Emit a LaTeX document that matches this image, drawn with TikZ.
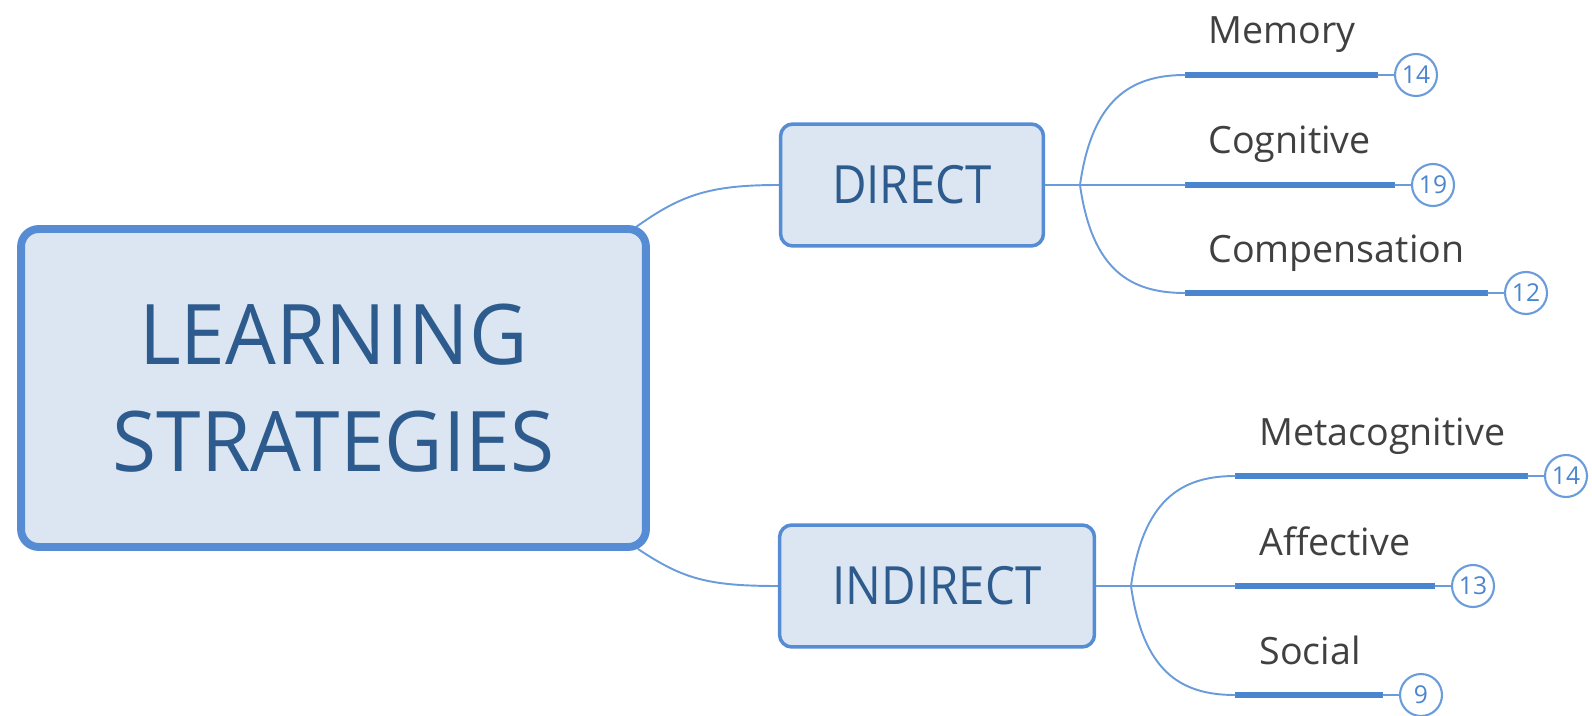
\documentclass[tikz,border=0pt]{standalone}
\usepackage{fontspec}
\setmainfont{Open Sans}
\newfontfamily\rootfont[FakeStretch=0.96]{Open Sans}
\newfontfamily\topicfont[FakeStretch=0.9]{Open Sans}
\usetikzlibrary{positioning,calc,backgrounds}

\definecolor{mapline}{HTML}{6A9CDC}
\definecolor{mapbar}{HTML}{4A85D0}
\definecolor{mapborder}{HTML}{558CD4}
\definecolor{mapfill}{HTML}{DCE6F2}
\definecolor{maptext}{HTML}{2E5B8D}
\definecolor{leaftext}{HTML}{404040}

\tikzset{
  topic/.style={draw=mapborder,fill=mapfill,text=maptext,align=center,inner sep=0pt},
  root/.style={topic,line width=4.5pt,rounded corners=10pt,
    minimum width=12.5cm,minimum height=6.36cm,
    font=\rootfont\fontsize{47.6}{60.7}\selectfont},
  branch/.style={topic,line width=2pt,rounded corners=7pt,
    minimum height=2.44cm,font=\topicfont\fontsize{30}{36}\selectfont},
  leaf/.style={text=leaftext,inner sep=0pt,anchor=base west,
    font=\fontsize{21.4}{25}\selectfont},
  count/.style={circle,draw=mapline,line width=1.2pt,fill=white,
    minimum size=0.84cm,inner sep=0pt,text=mapbar,
    font=\fontsize{14}{16}\selectfont},
  link/.style={draw=mapline,line width=1.1pt},
  bar/.style={draw=mapbar,line width=2.9pt,line cap=butt},
}

\begin{document}
\begin{tikzpicture}[x=0.02cm,y=-0.02cm,line cap=round,line join=round]
  \useasboundingbox (0,0) rectangle (1592,716);

  % topics
  \node[root] (main) at (333.5,388) {LEARNING\\STRATEGIES};
  \node[branch,minimum width=5.26cm] (direct) at (912,185) {DIRECT};
  \node[branch,minimum width=6.3cm] (indirect) at (937,586) {INDIRECT};

  % main links (tucked under the root border)
  \begin{scope}[on background layer]
    \draw[link] ($(main.north east)+(-14,2)$)
      .. controls +(45,-32) and +(-70,0) .. (direct.west);
    \draw[link] ($(main.south east)+(-12,-2)$)
      .. controls +(45,30) and +(-70,0) .. (indirect.west);
  \end{scope}

  % forks
  \coordinate (dfork) at (1080,185);
  \coordinate (ifork) at (1131,586);

  % direct leaves
  \foreach \nm/\lab/\yy/\xe/\num in {mem/Memory/75/1378/14,
      cog/Cognitive/185/1395/19, com/Compensation/293/1488/12}{
    \coordinate (\nm-s) at (1185,\yy);
    \coordinate (\nm-e) at (\xe,\yy);
    \node[count] (\nm-n) at (\xe+38,\yy) {\num};
    \node[leaf] (\nm-l) at ($(\nm-s)+(23,-31)$) {\lab};
    \draw[bar] (\nm-s) -- (\nm-e);
    \draw[link] (\nm-e) -- (\nm-n);
  }

  % indirect leaves
  \foreach \nm/\lab/\yy/\xe/\num in {met/Metacognitive/476/1528/14,
      aff/Affective/586/1435/13, soc/Social/695/1383/9}{
    \coordinate (\nm-s) at (1235,\yy);
    \coordinate (\nm-e) at (\xe,\yy);
    \node[count] (\nm-n) at (\xe+38,\yy) {\num};
    \node[leaf] (\nm-l) at ($(\nm-s)+(24,-31)$) {\lab};
    \draw[bar] (\nm-s) -- (\nm-e);
    \draw[link] (\nm-e) -- (\nm-n);
  }

  % branch links
  \draw[link] (direct.east) -- (cog-s);
  \draw[link] (dfork) .. controls +(12,-85) and +(-55,0) .. (mem-s);
  \draw[link] (dfork) .. controls +(12,85) and +(-55,0) .. (com-s);
  \draw[link] (indirect.east) -- (aff-s);
  \draw[link] (ifork) .. controls +(12,-85) and +(-55,0) .. (met-s);
  \draw[link] (ifork) .. controls +(12,85) and +(-55,0) .. (soc-s);
\end{tikzpicture}
\end{document}
